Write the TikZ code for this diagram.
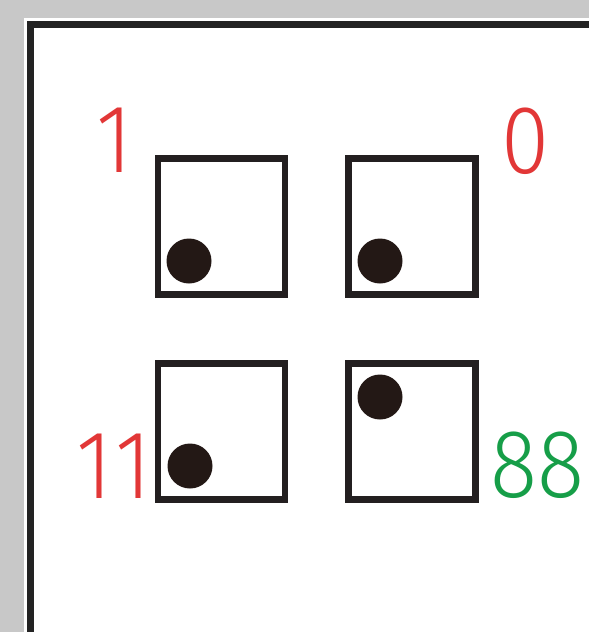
\documentclass[tikz,border=0pt]{standalone}
\usepackage{fontspec}
\newfontfamily\digf[FakeStretch=0.9]{Fira Sans Light}
\definecolor{bggray}{RGB}{200,200,200}
\definecolor{frameblack}{RGB}{35,35,35}
\definecolor{boxblack}{RGB}{35,31,32}
\definecolor{dotblack}{RGB}{35,24,21}
\definecolor{lblred}{RGB}{226,55,55}
\definecolor{lblgreen}{RGB}{22,158,72}
\tikzset{
  cell/.style={draw=boxblack, line width=6.5pt, minimum width=127pt, minimum height=136pt, inner sep=0pt, fill=white},
  ball/.style={circle, fill=dotblack, minimum size=45pt, inner sep=0pt},
  lbl/.style={inner sep=0pt, font=\digf\fontsize{97}{97}\selectfont},
}
\begin{document}
\begin{tikzpicture}[x=1pt,y=-1pt]
\useasboundingbox (0,0) rectangle (589,632);
\fill[bggray] (0,0) rectangle (589,632);
\fill[white] (24,18) rectangle (589,632);
\draw[frameblack, line width=7.5pt] (30.5,632) -- (30.5,24.5) -- (589,24.5);
% boxes
\node[cell] (b1) at (221.5,226.5) {};
\node[cell] (b2) at (412,226.5) {};
\node[cell] (b3) at (221.5,431.5) {};
\node[cell] (b4) at (412,431.5) {};
% dots
\node[ball] (d1) at (189,261) {};
\node[ball] (d2) at (380,261) {};
\node[ball] (d3) at (190,466) {};
\node[ball] (d4) at (380,397) {};
% labels
\node[lbl, text=lblred, anchor=base west] (l1) at (96,172) {1};
\node[lbl, text=lblred, anchor=base west] (l0) at (501,173) {0};
\node[lbl, text=lblred, anchor=base west] (l11) at (76,498) {1\kern3pt 1};
\node[lbl, text=lblgreen, anchor=base west] (l88) at (490,497) {88};
\end{tikzpicture}
\end{document}
